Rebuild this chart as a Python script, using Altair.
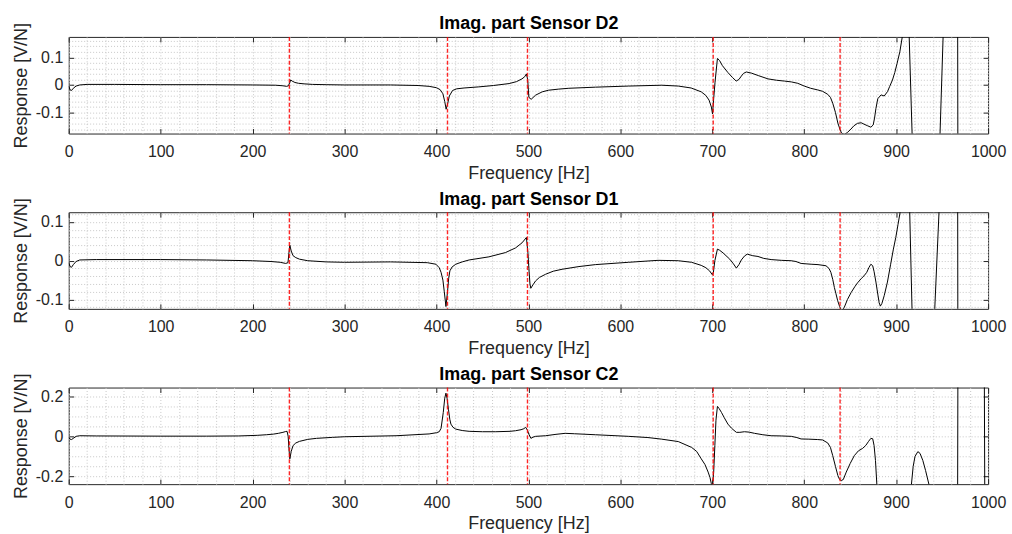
import altair as alt
import pandas as pd

# ---------------- data ----------------
FREQ_D2 = [0, 1.5, 3, 5, 8, 12, 20, 50, 100, 150, 200, 225, 233, 237, 239, 240.5, 241.5, 243, 246, 250,
           256, 265, 280, 300, 350, 380, 392, 400, 404, 407, 409, 410.5, 412, 414, 417.5, 422, 430, 446,
           462, 479, 487, 493, 496, 497.8, 499.2, 500.5, 503, 507.8, 515, 522, 533, 544, 573, 609, 645,
           663, 677, 688, 693, 696.5, 699, 700.3, 701.5, 703, 705.6, 708, 711, 717, 722, 726, 729, 731.6,
           734, 737, 742.5, 750, 760.6, 770, 778.6, 786, 793, 800, 807, 814.7, 820, 825.6, 828.5, 831,
           834, 836.6, 839, 840.7, 843.6, 847, 850.8, 854, 858, 862, 865, 869, 872.5, 875, 876.5, 878,
           880, 883.6, 887, 890.6, 893, 896, 898.5, 901, 904, 906.6, 909, 911, 913.5, 918, 922, 935, 945,
           947.5, 951.5, 955, 966.5, 967.5, 985, 1000]
RESP_D2 = [-0.004, -0.018, -0.02, -0.012, -0.004, 0.0, 0.002, 0.002, 0.001, 0.001, 0.0, -0.001, -0.003,
           -0.005, -0.003, 0.01, 0.018, 0.014, 0.009, 0.006, 0.004, 0.002, 0.001, 0.0, 0.0, -0.002,
           -0.005, -0.01, -0.017, -0.032, -0.06, -0.088, -0.07, -0.04, -0.02, -0.014, -0.011, -0.007,
           -0.002, 0.005, 0.012, 0.022, 0.03, 0.04, 0.02, -0.045, -0.052, -0.037, -0.025, -0.019, -0.015,
           -0.012, -0.008, -0.004, -0.001, -0.004, -0.011, -0.025, -0.038, -0.055, -0.08, -0.105, -0.05,
           0.01, 0.096, 0.088, 0.07, 0.045, 0.027, 0.014, 0.02, 0.032, 0.042, 0.047, 0.043, 0.034, 0.022,
           0.017, 0.014, 0.011, 0.006, -0.004, -0.012, -0.018, -0.023, -0.034, -0.045, -0.066, -0.1,
           -0.138, -0.162, -0.175, -0.18, -0.172, -0.16, -0.148, -0.139, -0.137, -0.142, -0.148, -0.153,
           -0.145, -0.12, -0.085, -0.05, -0.036, -0.04, -0.024, -0.005, 0.018, 0.045, 0.078, 0.12, 0.173,
           0.27, 0.45, 0.25, -0.25, -0.6, -1.5, -0.8, -0.2, 0.22, 0.8, 1.0, -1.0, -0.8, -0.5]

FREQ_D1 = [0, 1.5, 3, 5, 8, 12, 30, 100, 150, 200, 220, 230, 236, 238.5, 239.5, 240.5, 242, 244, 247,
           251, 260, 280, 300, 350, 390, 399.4, 403, 405, 407, 408.5, 410.3, 412, 413.3, 414.6, 417, 421,
           428, 435.5, 457, 475, 486, 493, 496.5, 497.8, 499.5, 500.5, 501.7, 502.6, 505, 507.8, 512,
           518.6, 527, 536.6, 555, 572.8, 609, 641, 663, 677.5, 688, 693, 697, 700, 701.2, 702.8, 705.6,
           708, 711.8, 719, 723, 726.2, 729, 731.6, 735, 738, 744, 749.7, 756, 764, 775, 785.8, 791,
           796.6, 802, 807.5, 815, 823.7, 827, 829, 831, 832.8, 834.5, 836.4, 838.5, 840, 841.5, 843.6,
           847, 851, 855, 858, 862, 865, 868, 870.5, 872.5, 874.5, 876, 878, 880, 881.5, 882.8, 884.5,
           887, 890.5, 894, 897, 899.6, 902, 904.3, 907, 911, 914, 918, 925, 938, 941.5, 948, 955, 966.5,
           967.5, 985, 1000]
RESP_D1 = [-0.005, -0.015, -0.017, -0.01, -0.002, 0.002, 0.003, 0.003, 0.002, 0.0, -0.002, -0.004,
           -0.007, -0.005, 0.02, 0.04, 0.025, 0.013, 0.008, 0.004, 0.0, -0.003, -0.004, -0.003, -0.005,
           -0.009, -0.018, -0.03, -0.05, -0.08, -0.118, -0.08, -0.045, -0.026, -0.016, -0.009, -0.003,
           0.002, 0.01, 0.021, 0.033, 0.046, 0.056, 0.06, 0.02, -0.02, -0.06, -0.071, -0.062, -0.052,
           -0.043, -0.035, -0.027, -0.022, -0.015, -0.01, -0.004, 0.001, 0.0, -0.004, -0.012, -0.018,
           -0.026, -0.036, -0.03, 0.0, 0.03, 0.027, 0.02, 0.004, -0.008, -0.019, -0.01, 0.002, 0.012,
           0.017, 0.013, 0.011, 0.006, 0.003, 0.001, 0.0, -0.002, -0.007, -0.008, -0.009, -0.01, -0.013,
           -0.02, -0.03, -0.048, -0.069, -0.085, -0.103, -0.118, -0.126, -0.128, -0.12, -0.1, -0.082,
           -0.067, -0.057, -0.046, -0.039, -0.03, -0.017, -0.009, -0.013, -0.028, -0.055, -0.086, -0.108,
           -0.117, -0.11, -0.09, -0.055, -0.009, 0.03, 0.06, 0.093, 0.125, 0.2, 0.3, 0.2, -0.2, -0.6,
           -0.5, -0.15, 0.2, 0.6, 1.0, -1.0, -0.8, -0.5]

FREQ_C2 = [0, 1.5, 3, 5, 8, 12, 30, 100, 150, 185, 205, 215, 222.5, 228, 233, 236, 237.5, 238.7, 239.5,
           240.5, 242, 244, 247, 251, 260, 269.5, 287, 300, 356, 392, 400, 403, 405, 407.4, 409, 410.3,
           411.5, 413, 414.5, 415.7, 418, 421, 428, 435.5, 450, 464.5, 480, 486, 492, 495, 497, 499,
           500.5, 502.7, 505, 507.8, 518.6, 530, 540, 550, 572.8, 609, 630, 645, 663, 677.5, 683, 688,
           692, 695.5, 697.5, 699, 700, 701.5, 702.8, 704, 705.6, 707.5, 710, 713, 717, 721, 726.2, 730,
           735, 740, 746, 755, 764, 775, 786, 792, 796.6, 805, 814.7, 820, 825.6, 828.5, 831, 834, 836.6,
           838.5, 840.2, 842.5, 845.7, 850, 854.5, 859, 863.5, 867, 870, 872.5, 874.5, 876, 877.5, 879,
           881, 895, 910, 916.6, 918.5, 920.5, 923.6, 926, 929, 932, 935.7, 940, 955, 966.5, 967.5, 980,
           995.5, 996.8, 1000]
RESP_C2 = [-0.005, -0.014, -0.016, -0.01, 0.0, 0.003, 0.002, 0.001, 0.001, 0.002, 0.005, 0.008, 0.011,
           0.015, 0.02, 0.024, 0.025, 0.0, -0.06, -0.112, -0.075, -0.046, -0.033, -0.025, -0.015, -0.01,
           -0.005, -0.002, 0.003, 0.012, 0.018, 0.023, 0.04, 0.119, 0.19, 0.215, 0.19, 0.135, 0.085,
           0.061, 0.045, 0.036, 0.029, 0.025, 0.023, 0.023, 0.025, 0.028, 0.033, 0.038, 0.045, 0.03,
           0.011, -0.01, -0.004, 0.0, 0.003, 0.01, 0.015, 0.013, 0.008, 0.0, -0.006, -0.014, -0.026,
           -0.055, -0.075, -0.112, -0.14, -0.178, -0.205, -0.236, -0.26, -0.18, -0.046, 0.08, 0.149,
           0.138, 0.119, 0.093, 0.061, 0.04, 0.02, 0.02, 0.023, 0.021, 0.015, 0.008, 0.003, 0.002, 0.0,
           -0.006, -0.013, -0.014, -0.016, -0.018, -0.033, -0.055, -0.096, -0.15, -0.195, -0.215, -0.22,
           -0.215, -0.178, -0.135, -0.096, -0.072, -0.06, -0.045, -0.025, -0.01, -0.012, -0.046, -0.12,
           -0.24, -0.35, -0.6, -0.4, -0.24, -0.15, -0.1, -0.076, -0.085, -0.12, -0.17, -0.24, -0.4, -0.8,
           -1.0, 1.0, 0.8, 0.8, -0.8, -1.0]

MODES = [240, 412, 499, 701, 839]
X_MAJOR = list(range(0, 1001, 100))
X_MINOR = list(range(0, 1001, 20))

TITLES = ["Imag. part Sensor D2", "Imag. part Sensor D1", "Imag. part Sensor C2"]
Y_DOMAINS = [[-0.176, 0.174], [-0.124, 0.125], [-0.238, 0.243]]
Y_MAJOR = [[-0.1, 0, 0.1], [-0.1, 0, 0.1], [-0.2, 0, 0.2]]
Y_MINOR = [[round(-0.16 + 0.02 * i, 2) for i in range(17)],
           [round(-0.12 + 0.02 * i, 2) for i in range(13)],
           [round(-0.2 + 0.05 * i, 2) for i in range(9)]]

FONT = "Liberation Sans"
DARK = "#262626"
TICK = 5
MINUS_FIX = "replace(datum.label, '\u2212', '-')"


def panel(title, freq, resp, ydom, ymajor, yminor):
    df = pd.DataFrame({"f": freq, "r": resp})
    xs = alt.Scale(domain=[0, 1000], nice=False, zero=False)
    ys = alt.Scale(domain=ydom, nice=False, zero=False)
    base = alt.Chart(df)

    grid = base.mark_line(opacity=0, clip=True).encode(
        x=alt.X("f:Q", scale=xs, axis=alt.Axis(values=X_MINOR, grid=True, labels=False, ticks=False,
                                                domain=False, title=None, gridDash=[1, 2],
                                                gridColor="#c8c8c8", gridWidth=1)),
        y=alt.Y("r:Q", scale=ys, axis=alt.Axis(values=yminor, grid=True, labels=False, ticks=False,
                                                domain=False, title=None, gridDash=[1, 2],
                                                gridColor="#c8c8c8", gridWidth=1)),
    )

    main_axes = base.mark_line(opacity=0, clip=True).encode(
        x=alt.X("f:Q", scale=xs, axis=alt.Axis(values=X_MAJOR, orient="bottom", grid=False, domain=False,
                                                offset=-TICK, tickSize=TICK, labelPadding=10,
                                                format="d", labelFlush=False,
                                                title="Frequency [Hz]", titlePadding=5)),
        y=alt.Y("r:Q", scale=ys, axis=alt.Axis(values=ymajor, orient="left", grid=False, domain=False,
                                                offset=-TICK, tickSize=TICK, labelPadding=6,
                                                format=".1~f", labelExpr=MINUS_FIX,
                                                title="Response [V/N]", titlePadding=5)),
    )

    opp_axes = base.mark_line(opacity=0, clip=True).encode(
        x=alt.X("f:Q", scale=xs, axis=alt.Axis(values=X_MAJOR, orient="top", grid=False, domain=False,
                                                offset=-TICK, tickSize=TICK, labels=False,
                                                title=title, titleFontWeight="bold", titleFontSize=18,
                                                titleColor="black", titleBaseline="alphabetic",
                                                titlePadding=7.5)),
        y=alt.Y("r:Q", scale=ys, axis=alt.Axis(values=ymajor, orient="right", grid=False, domain=False,
                                                offset=-TICK, tickSize=TICK, labels=False, title=None)),
    )

    curve = base.mark_line(color="black", strokeWidth=1, clip=True).encode(
        x=alt.X("f:Q", scale=xs, axis=None),
        y=alt.Y("r:Q", scale=ys, axis=None),
    )

    modes = alt.Chart(pd.DataFrame({"m": MODES})).mark_rule(
        color="#ff0000", strokeDash=[4, 2], strokeWidth=1.4, opacity=0.85
    ).encode(x=alt.X("m:Q", scale=xs, axis=None))

    return alt.layer(grid, main_axes, opp_axes, curve, modes).resolve_axis(
        x="independent", y="independent"
    ).properties(width=923, height=97)


panels = [panel(TITLES[0], FREQ_D2, RESP_D2, Y_DOMAINS[0], Y_MAJOR[0], Y_MINOR[0]),
          panel(TITLES[1], FREQ_D1, RESP_D1, Y_DOMAINS[1], Y_MAJOR[1], Y_MINOR[1]),
          panel(TITLES[2], FREQ_C2, RESP_C2, Y_DOMAINS[2], Y_MAJOR[2], Y_MINOR[2])]

chart = alt.vconcat(*panels, spacing=6).properties(
    padding={"left": 11, "top": 13, "right": 5, "bottom": 5}, background="white"
).configure_view(
    stroke=DARK, strokeWidth=1
).configure_axis(
    labelFont=FONT, labelFontSize=16, labelColor=DARK,
    titleFont=FONT, titleFontSize=18, titleFontWeight="normal", titleColor=DARK,
    tickColor=DARK, tickWidth=1,
)

chart.save("out.html", embed_options={"renderer": "svg", "actions": False})
